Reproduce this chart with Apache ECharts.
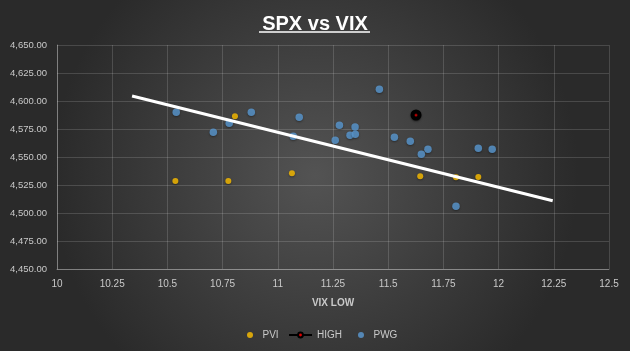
<!DOCTYPE html>
<html>
<head>
<meta charset="utf-8">
<script src="https://cdn.jsdelivr.net/npm/echarts@6/dist/echarts.min.js"></script>
<style>
html, body { margin: 0; padding: 0; }
#main { width: 630px; height: 351px; }
</style>
</head>
<body>
<div id="main"></div>
<script>
// VIX low (x) / SPX high (y)
var pwgX = [10.54, 10.708, 10.78, 10.88, 11.097, 11.07, 11.46, 11.279, 11.35, 11.327, 11.351, 11.26, 11.528, 11.6, 11.68, 11.65, 11.908, 11.971, 11.807];
var pwgY = [4589.9, 4572.1, 4580.1, 4589.9, 4585.4, 4568.5, 4610.4, 4578.3, 4576.8, 4569.4, 4570.3, 4564.9, 4567.6, 4564, 4556.9, 4552.4, 4557.8, 4556.9, 4506];
var pviX = [10.536, 10.776, 10.806, 11.064, 11.645, 11.807, 11.908];
var pviY = [4528.6, 4528.6, 4586.3, 4535.4, 4532.8, 4531.9, 4532.1];
var highX = [11.626];
var highY = [4587.5];
// trendline ends
var trendX = [10.34, 12.245];
var trendY = [4604.5, 4511];
var xTicks = { min: 10, max: 12.5, step: 0.25 };
var yTicks = { min: 4450, max: 4650, step: 25 };

function pairs(xs, ys) {
  return xs.map(function (x, i) { return [x, ys[i]]; });
}

var labelColor = '#c9c9c9';
var fontFam = '"Liberation Sans", Arial, sans-serif';
var shadow = { shadowBlur: 2, shadowColor: 'rgba(0,0,0,0.45)', shadowOffsetY: 1 };

// one legend per entry so each can sit where excel puts it
function legendAt(name, left, w) {
  return {
    bottom: 6,
    left: left,
    itemWidth: w,
    itemHeight: 6,
    textStyle: { color: labelColor, fontSize: 10 },
    data: [name]
  };
}

var myChart = echarts.init(document.getElementById('main'));
var option = {
  animation: false,
  backgroundColor: {
    type: 'radial', x: 0.5, y: 0.5, r: 0.75,
    colorStops: [
      { offset: 0, color: '#535353' },
      { offset: 1, color: '#2a2a2a' }
    ]
  },
  textStyle: { fontFamily: fontFam },
  title: {
    text: 'SPX vs VIX',
    left: 'center',
    top: 9,
    textStyle: { color: '#fff', fontSize: 20, fontWeight: 'bold', fontFamily: fontFam }
  },
  graphic: [{
    type: 'line',
    shape: { x1: 259, y1: 32, x2: 370, y2: 32 },
    style: { stroke: '#fff', lineWidth: 1.5 }
  }],
  grid: { left: 57, right: 21, top: 45, bottom: 82, containLabel: false, outerBoundsMode: 'none' },
  xAxis: {
    type: 'value',
    min: xTicks.min, max: xTicks.max, interval: xTicks.step,
    name: 'VIX LOW',
    nameLocation: 'middle',
    nameGap: 29,
    nameTextStyle: { color: labelColor, fontSize: 10, fontWeight: 'bold' },
    axisLine: { show: true, lineStyle: { color: 'rgba(255,255,255,0.3)' } },
    axisTick: { show: false },
    axisLabel: { color: labelColor, fontSize: 10, margin: 10 },
    splitLine: { show: true, lineStyle: { color: 'rgba(255,255,255,0.15)' } }
  },
  yAxis: {
    type: 'value',
    min: yTicks.min, max: yTicks.max, interval: yTicks.step,
    name: 'SPX HIGH',
    nameLocation: 'middle',
    nameRotate: 90,
    nameGap: 46,
    nameTextStyle: { color: labelColor, fontSize: 10, fontWeight: 'bold' },
    axisLine: { show: true, lineStyle: { color: 'rgba(255,255,255,0.3)' } },
    axisTick: { show: false },
    axisLabel: {
      color: labelColor, fontSize: 9.5, margin: 10,
      formatter: function (v) {
        return v.toLocaleString('en-US', { minimumFractionDigits: 2, maximumFractionDigits: 2 });
      }
    },
    splitLine: { show: true, lineStyle: { color: 'rgba(255,255,255,0.15)' } }
  },
  legend: [
    legendAt('PVI', 242, 15),
    legendAt('HIGH', 283, 23),
    legendAt('PWG', 353, 15)
  ],
  series: [
    {
      name: 'PVI',
      type: 'scatter',
      symbolSize: 6,
      itemStyle: Object.assign({ color: '#ffc000' }, shadow),
      data: pairs(pviX, pviY),
      z: 3
    },
    {
      name: 'HIGH',
      type: 'line',
      symbol: 'circle',
      symbolSize: 7,
      lineStyle: { color: '#000', width: 3 },
      itemStyle: Object.assign({ color: '#e00000', borderColor: '#000', borderWidth: 4 }, shadow),
      data: pairs(highX, highY),
      z: 4
    },
    {
      name: 'PWG',
      type: 'scatter',
      symbolSize: 7.5,
      itemStyle: Object.assign({ color: '#5b9bd5' }, shadow),
      data: pairs(pwgX, pwgY),
      z: 3
    },
    {
      name: 'trend',
      type: 'line',
      symbol: 'none',
      silent: true,
      lineStyle: { color: '#fff', width: 3 },
      data: pairs(trendX, trendY),
      z: 5
    }
  ]
};
myChart.setOption(option);
</script>
</body>
</html>
